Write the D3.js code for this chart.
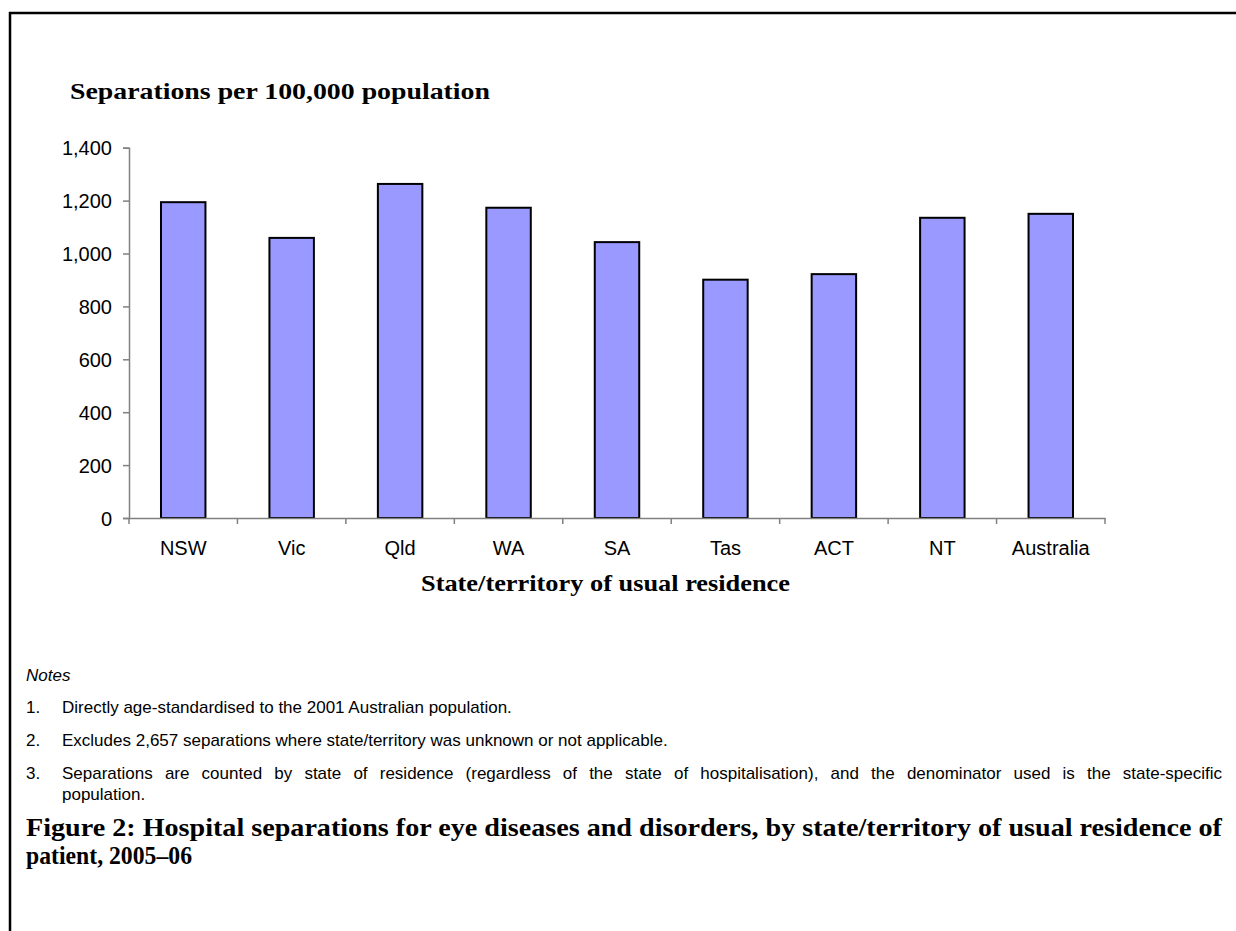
<!DOCTYPE html>
<html>
<head>
<meta charset="utf-8">
<script src="https://cdn.jsdelivr.net/npm/d3@7/dist/d3.min.js"></script>
<style>
  html, body { margin: 0; padding: 0; background: #fff; }
  svg { display: block; }
  .sans { font-family: "Liberation Sans", Arial, sans-serif; }
  .serif { font-family: "Liberation Serif", "Times New Roman", serif; font-weight: bold; }
</style>
</head>
<body>
<svg id="chart" width="1236" height="931"></svg>
<script>
// Hospital separations for eye diseases, per 100,000 population, 2005–06
const categories = ["NSW", "Vic", "Qld", "WA", "SA", "Tas", "ACT", "NT", "Australia"];
const rates = [1194, 1059, 1263, 1173, 1043, 901, 922, 1135, 1150];
const yTicks = [0, 200, 400, 600, 800, 1000, 1200, 1400];

const notes = [
  "Directly age-standardised to the 2001 Australian population.",
  "Excludes 2,657 separations where state/territory was unknown or not applicable.",
  "Separations are counted by state of residence (regardless of the state of hospitalisation), and the denominator used is the state-specific",
  "population."
];
const captionLines = [
  "Figure 2: Hospital separations for eye diseases and disorders, by state/territory of usual residence of",
  "patient, 2005–06"
];

const svg = d3.select("#chart");

// lay out a line word by word so that it fills the given width (justified text)
function justify(sel, text, x0, width) {
  const words = text.split(" ");
  const spans = words.map(w => sel.append("tspan").text(w));
  const widths = spans.map(s => s.node().getComputedTextLength());
  const gap = (width - d3.sum(widths)) / (words.length - 1);
  let cx = x0;
  spans.forEach((s, i) => { s.attr("x", cx); cx += widths[i] + gap; });
}

// page frame (top and left rules)
svg.append("line").attr("x1", 9).attr("x2", 1236).attr("y1", 13).attr("y2", 13)
  .attr("stroke", "#000").attr("stroke-width", 2.5);
svg.append("line").attr("x1", 10).attr("x2", 10).attr("y1", 12).attr("y2", 931)
  .attr("stroke", "#000").attr("stroke-width", 2.5);

const plot = { left: 129, right: 1105, top: 147.7, bottom: 518 };

const x = d3.scaleBand().domain(categories)
  .range([plot.left, plot.right]).paddingInner(0.59).paddingOuter(0.295);
const y = d3.scaleLinear().domain([0, 1400]).range([plot.bottom, plot.top]);

// y title
svg.append("text").attr("class", "serif")
  .attr("x", 70).attr("y", 99).attr("font-size", 24)
  .attr("textLength", 420).attr("lengthAdjust", "spacingAndGlyphs")
  .text("Separations per 100,000 population");

// bars
svg.append("g").selectAll("rect").data(categories).join("rect")
  .attr("x", d => x(d))
  .attr("y", (d, i) => y(rates[i]))
  .attr("width", x.bandwidth())
  .attr("height", (d, i) => y(0) - y(rates[i]))
  .attr("fill", "#9999ff")
  .attr("stroke", "#000")
  .attr("stroke-width", 2);

// y axis
const yAxis = svg.append("g").attr("transform", `translate(${plot.left},0)`)
  .call(d3.axisLeft(y).tickValues(yTicks).tickSize(6).tickPadding(11).tickFormat(d3.format(",")));
yAxis.select(".domain").attr("stroke", "#808080").attr("stroke-width", 1.5);
yAxis.selectAll(".tick line").attr("stroke", "#808080").attr("stroke-width", 1.5);
yAxis.selectAll(".tick text").attr("class", "sans").attr("font-size", 20).attr("fill", "#000")
  .attr("dy", "0.35em");

// x axis: labels centred in bands, tick marks on band boundaries
const xAxis = svg.append("g").attr("transform", `translate(0,${plot.bottom})`)
  .call(d3.axisBottom(x).tickSize(0).tickPadding(37));
xAxis.select(".domain").attr("stroke", "#808080").attr("stroke-width", 1.5);
xAxis.selectAll(".tick text").attr("class", "sans").attr("font-size", 20).attr("fill", "#000")
  .attr("dy", 0);
const boundaries = categories.map(c => x(c) - x.step() * x.paddingInner() / 2)
  .concat([plot.right]);
xAxis.selectAll("line.bound").data(boundaries).join("line").attr("class", "bound")
  .attr("x1", d => d).attr("x2", d => d).attr("y1", 0).attr("y2", 6)
  .attr("stroke", "#808080").attr("stroke-width", 1.5);

// x title
svg.append("text").attr("class", "serif")
  .attr("x", 421).attr("y", 591).attr("font-size", 24)
  .attr("textLength", 369).attr("lengthAdjust", "spacingAndGlyphs")
  .text("State/territory of usual residence");

// notes
svg.append("text").attr("class", "sans").attr("font-style", "italic")
  .attr("x", 26).attr("y", 681).attr("font-size", 17).text("Notes");
const noteY = [713, 746, 779, 800];
const noteNum = ["1.", "2.", "3.", ""];
notes.forEach((t, i) => {
  if (noteNum[i]) {
    svg.append("text").attr("class", "sans").attr("x", 26).attr("y", noteY[i])
      .attr("font-size", 17).text(noteNum[i]);
  }
  const tx = svg.append("text").attr("class", "sans").attr("x", 62).attr("y", noteY[i])
    .attr("font-size", 17);
  if (i === 2) justify(tx, t, 62, 1160);
  else tx.text(t);
});

// caption
svg.append("text").attr("class", "serif").attr("x", 26).attr("y", 836).attr("font-size", 25)
  .attr("textLength", 1196).attr("lengthAdjust", "spacingAndGlyphs").text(captionLines[0]);
svg.append("text").attr("class", "serif").attr("x", 26).attr("y", 864).attr("font-size", 25)
  .attr("textLength", 166).attr("lengthAdjust", "spacingAndGlyphs").text(captionLines[1]);
</script>
</body>
</html>
